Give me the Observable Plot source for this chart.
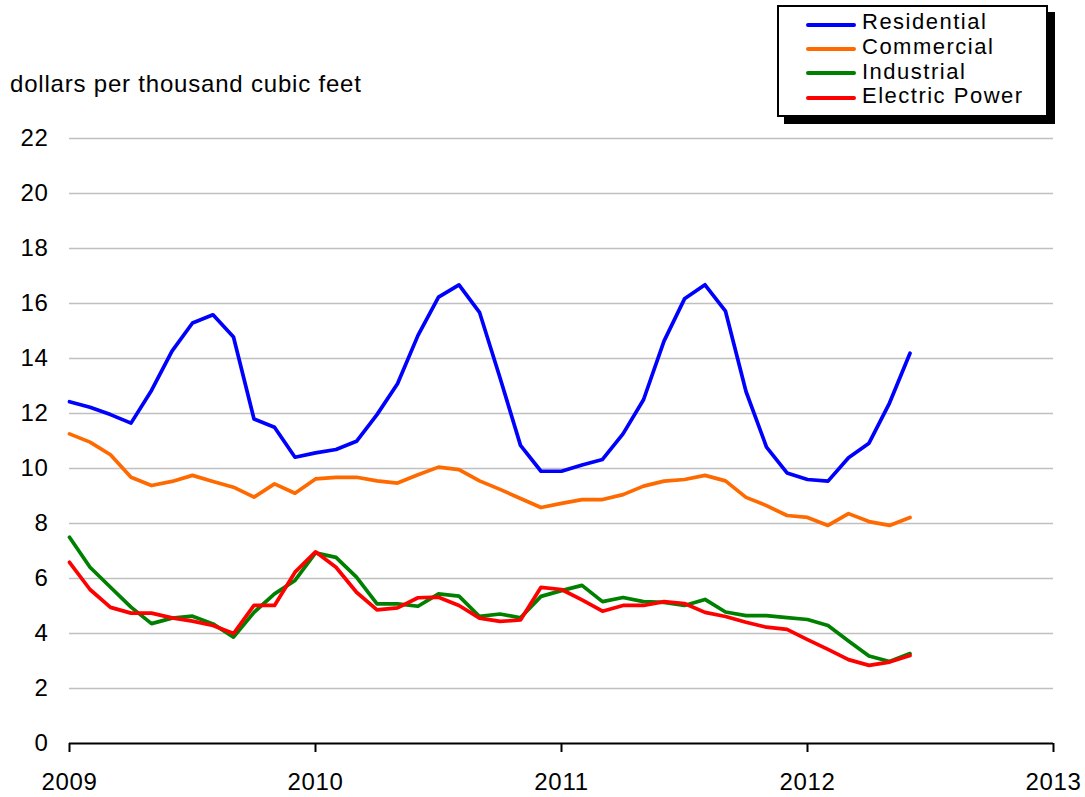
<!DOCTYPE html>
<html>
<head>
<meta charset="utf-8">
<script src="https://cdn.jsdelivr.net/npm/d3@7"></script>
<script src="https://cdn.jsdelivr.net/npm/@observablehq/plot@0.6"></script>
<style>
  body { margin: 0; background: #fff; font-family: "Liberation Sans", Arial, sans-serif; }
  #wrap { position: relative; width: 1085px; height: 797px; }
  #ylabel { position: absolute; left: 10px; top: 72px; font-size: 24px; line-height: 24px; letter-spacing: 0.8px; color: #000; white-space: nowrap; }
  #legend { position: absolute; left: 777px; top: 5px; width: 271px; height: 112px; box-sizing: border-box; border: 2px solid #000; background: #fff; box-shadow: 7px 7px 0 #000; }
  .lg-line { position: absolute; left: 27px; width: 50px; height: 4px; border-radius: 2px; }
  .lg-text { position: absolute; left: 83px; font-size: 22px; line-height: 18px; letter-spacing: 1.5px; color: #000; white-space: nowrap; }
</style>
</head>
<body>
<div id="wrap">
  <div id="chart"></div>
  <div id="ylabel">dollars per thousand cubic feet</div>
  <div id="legend"></div>
</div>
<script>
// ---- data (monthly, Jan 2009 – Jun 2012) ----
const startYear = 2009;
const seriesNames = ["Residential", "Commercial", "Industrial", "Electric Power"];
const seriesColors = ["#0000ff", "#ff6a00", "#008000", "#ff0000"];

const residential = [12.43, 12.23, 11.96, 11.65, 12.84, 14.27, 15.29, 15.59, 14.78, 11.80, 11.50, 10.41,
                     10.57, 10.69, 10.99, 11.96, 13.08, 14.84, 16.23, 16.68, 15.68, 13.30, 10.84, 9.90,
                     9.90, 10.13, 10.33, 11.26, 12.50, 14.63, 16.17, 16.68, 15.72, 12.80, 10.78, 9.84,
                     9.60, 9.54, 10.39, 10.92, 12.38, 14.19];
const commercial = [11.26, 10.96, 10.50, 9.68, 9.38, 9.53, 9.75, 9.53, 9.32, 8.96, 9.44, 9.10,
                    9.62, 9.68, 9.68, 9.55, 9.47, 9.77, 10.05, 9.96, 9.55, 9.24, 8.91, 8.58,
                    8.73, 8.87, 8.87, 9.05, 9.36, 9.54, 9.60, 9.75, 9.55, 8.95, 8.65, 8.29,
                    8.22, 7.93, 8.36, 8.07, 7.93, 8.22];
const industrial = [7.50, 6.41, 5.68, 4.96, 4.36, 4.56, 4.63, 4.35, 3.87, 4.77, 5.44, 5.93,
                    6.93, 6.77, 6.05, 5.08, 5.08, 4.99, 5.44, 5.36, 4.62, 4.71, 4.57, 5.35,
                    5.56, 5.75, 5.16, 5.31, 5.16, 5.13, 5.02, 5.24, 4.78, 4.65, 4.65, 4.58,
                    4.51, 4.29, 3.73, 3.18, 2.98, 3.27];
const electricPower = [6.59, 5.60, 4.95, 4.74, 4.74, 4.57, 4.45, 4.29, 4.00, 5.02, 5.02, 6.23,
                       6.97, 6.41, 5.50, 4.86, 4.93, 5.30, 5.32, 5.02, 4.56, 4.44, 4.49, 5.68,
                       5.60, 5.22, 4.81, 5.02, 5.02, 5.16, 5.09, 4.77, 4.62, 4.41, 4.23, 4.15,
                       3.78, 3.42, 3.05, 2.84, 2.96, 3.20];

const xTicks = [2009, 2010, 2011, 2012, 2013];
const yTicks = [0, 2, 4, 6, 8, 10, 12, 14, 16, 18, 20, 22];

// ---- build table ----
const seriesValues = [residential, commercial, industrial, electricPower];
const data = [];
seriesValues.forEach((vals, s) => {
  vals.forEach((v, i) => data.push({series: seriesNames[s], x: startYear + i / 12, value: v}));
});

const font = '"Liberation Sans", Arial, sans-serif';

const chart = Plot.plot({
  width: 1085,
  height: 797,
  marginLeft: 69,
  marginRight: 32,
  marginTop: 138,
  marginBottom: 54,
  style: {fontFamily: font, fontSize: "24px", color: "#000", background: "#fff", letterSpacing: "0.7px"},
  x: {domain: [2009, 2013], label: null},
  y: {domain: [0, 22], label: null},
  color: {domain: seriesNames, range: seriesColors},
  marks: [
    Plot.ruleY(yTicks.filter(d => d > 0), {stroke: "#c0c0c0", strokeWidth: 1.3}),
    Plot.axisY({ticks: yTicks, tickSize: 0, tickPadding: 21, tickFormat: d => String(d), label: null}),
    Plot.line(data, {x: "x", y: "value", z: "series", stroke: "series", strokeWidth: 3.7, strokeLinejoin: "round", strokeLinecap: "round"}),
    Plot.ruleY([0], {stroke: "#000", strokeWidth: 2}),
    Plot.axisX({ticks: xTicks, tickSize: 9, tickPadding: 20, strokeWidth: 2, tickFormat: d => String(d), label: null})
  ]
});
document.getElementById("chart").appendChild(chart);

// ---- legend ----
const legend = document.getElementById("legend");
const lineCenters = [18, 42, 66, 91];
const baselines = [22.5, 47.3, 72.1, 96.9];
seriesNames.forEach((name, i) => {
  const ln = document.createElement("div");
  ln.className = "lg-line";
  ln.style.top = (lineCenters[i] - 2) + "px";
  ln.style.background = seriesColors[i];
  legend.appendChild(ln);
  const tx = document.createElement("div");
  tx.className = "lg-text";
  // baseline offset for 22px Liberation Sans with 18px line-height ≈ 16.5px
  tx.style.top = (baselines[i] - 16.5) + "px";
  tx.textContent = name;
  legend.appendChild(tx);
});
</script>
</body>
</html>
